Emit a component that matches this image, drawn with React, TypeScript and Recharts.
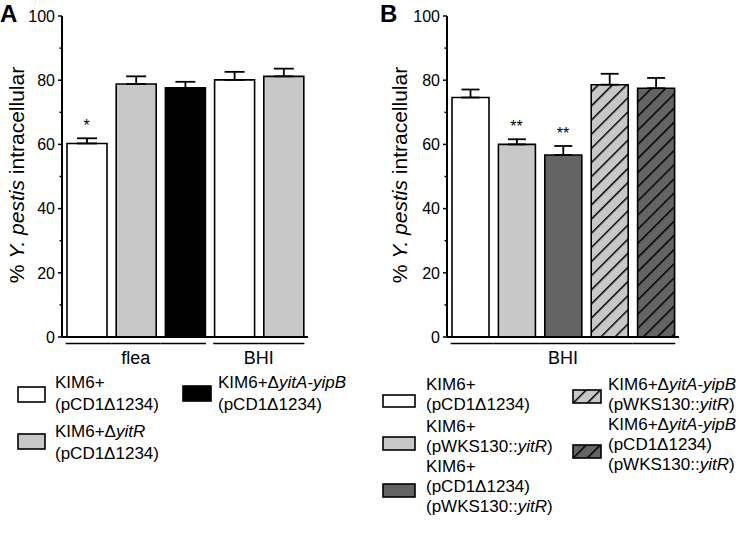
import React from "react";
import { ComposedChart, Bar, Scatter, XAxis, YAxis, ErrorBar, Cell } from "recharts";

const FONT = "'Liberation Sans', Arial, Helvetica, sans-serif";

/* ── panel A: flea vs BHI ── */
const strainsA = ["wt", "dyitR", "dyitAB", "wt", "dyitR"];
const groupsA = ["flea", "flea", "flea", "BHI", "BHI"];
const valuesA = [60.3, 78.8, 77.6, 80.1, 81.2];
const errorsA = [1.6, 2.4, 1.9, 2.5, 2.4];
const sigA = ["*", "", "", "", ""];

/* ── panel B: complementation, BHI ── */
const strainsB = ["wt", "yitR", "pcdYitR", "dyitABYitR", "dyitABPcdYitR"];
const groupsB = ["BHI", "BHI", "BHI", "BHI", "BHI"];
const valuesB = [74.6, 60.0, 56.7, 78.6, 77.5];
const errorsB = [2.5, 1.6, 2.8, 3.4, 3.2];
const sigB = ["", "**", "**", "", ""];

const yTicks = [0, 10, 20, 30, 40, 50, 60, 70, 80, 90, 100];

// legend text, "_x_" = italic
const legendLabels: Record<string, string[]> = {
  wt: ["KIM6+", "(pCD1Δ1234)"],
  dyitR: ["KIM6+Δ_yitR_", "(pCD1Δ1234)"],
  dyitAB: ["KIM6+Δ_yitA-yipB_", "(pCD1Δ1234)"],
  yitR: ["KIM6+", "(pWKS130::_yitR_)"],
  pcdYitR: ["KIM6+", "(pCD1Δ1234)", "(pWKS130::_yitR_)"],
  dyitABYitR: ["KIM6+Δ_yitA-yipB_", "(pWKS130::_yitR_)"],
  dyitABPcdYitR: ["KIM6+Δ_yitA-yipB_", "(pCD1Δ1234)", "(pWKS130::_yitR_)"],
};

const FILL: Record<string, string> = {
  wt: "#ffffff",
  dyitR: "#c8c8c8",
  dyitAB: "#000000",
  yitR: "#c8c8c8",
  pcdYitR: "#646464",
  dyitABYitR: "url(#hatchLight)",
  dyitABPcdYitR: "url(#hatchDark)",
};

const build = (strains: string[], groups: string[], vals: number[], errs: number[], sig: string[]) =>
  strains.map((s, i) => ({
    name: `${groups[i]}-${s}-${i}`,
    strain: s,
    group: groups[i],
    value: vals[i],
    err: [0, errs[i]],
    top: vals[i] + errs[i],
    sig: sig[i],
  }));

const dataA = build(strainsA, groupsA, valuesA, errorsA, sigA);
const dataB = build(strainsB, groupsB, valuesB, errorsB, sigB);

function Rich({ text }: { text: string }) {
  const parts = text.split("_");
  return (
    <>
      {parts.map((p, i) => (i % 2 ? <i key={i}>{p}</i> : <span key={i}>{p}</span>))}
    </>
  );
}

const YTick = (props: any) => {
  const { x, y, payload } = props;
  const major = payload.value % 20 === 0;
  return (
    <g>
      <line x1={x - (major ? 4 : 2.5)} x2={x} y1={y} y2={y} stroke="#000" strokeWidth={1.5} />
      {major && (
        <text x={x - 7} y={y} dy={5.8} textAnchor="end" fontSize={16} fontFamily={FONT} fill="#000">
          {payload.value}
        </text>
      )}
    </g>
  );
};

// group underline + group label, built from the category ticks
const makeXTick = (groups: string[], band: number, barW: number) => (props: any) => {
  const { x, y, payload } = props;
  const i = payload.index;
  const g = groups[i];
  const first = i === 0 || groups[i - 1] !== g;
  const last = i === groups.length - 1 || groups[i + 1] !== g;
  const x1 = first ? x - barW / 2 - 1 : x - band / 2;
  const x2 = last ? x + barW / 2 + 1 : x + band / 2;
  let label = null;
  if (first) {
    let n = 0;
    while (groups[i + n] === g) n++;
    const cx = x + ((n - 1) / 2) * band;
    label = (
      <text x={cx} y={y + 27} textAnchor="middle" fontSize={18} fontFamily={FONT} fill="#000">
        {g}
      </text>
    );
  }
  return (
    <g>
      <line x1={x1} x2={x2} y1={y + 6.5} y2={y + 6.5} stroke="#000" strokeWidth={1.6} />
      {label}
    </g>
  );
};

const YTitle = (props: any) => {
  const { viewBox, dx } = props;
  const cx = viewBox.x + dx;
  const cy = viewBox.y + viewBox.height / 2 - 1.5;
  return (
    <text
      x={cx}
      y={cy}
      transform={`rotate(-90 ${cx} ${cy})`}
      textAnchor="middle"
      dominantBaseline="central"
      fontSize={21}
      fontFamily={FONT}
      fill="#000"
    >
      {"% "}
      <tspan fontStyle="italic">Y. pestis</tspan>
      {" intracellular"}
    </text>
  );
};

function Panel({
  data,
  groups,
  yAxisW,
  barW,
  capW,
  titleDx,
}: {
  data: any[];
  groups: string[];
  yAxisW: number;
  barW: number;
  capW: number;
  titleDx: number;
}) {
  const W = 371;
  const right = 63;
  const band = (W - yAxisW - right) / data.length;
  return (
    <ComposedChart width={W} height={380} data={data} margin={{ top: 16, right, bottom: 0, left: 0 }}>
      <XAxis
        dataKey="name"
        axisLine={{ stroke: "#000", strokeWidth: 2 }}
        tickLine={false}
        tickSize={0}
        tickMargin={0}
        interval={0}
        height={43}
        tick={makeXTick(groups, band, barW)}
      />
      <YAxis
        domain={[0, 100]}
        ticks={yTicks}
        interval={0}
        width={yAxisW}
        axisLine={{ stroke: "#000", strokeWidth: 2 }}
        tickLine={false}
        tickSize={0}
        tickMargin={0}
        tick={<YTick />}
        label={<YTitle dx={titleDx} />}
      />
      <Bar dataKey="value" barSize={barW} stroke="#000" strokeWidth={1.6} isAnimationActive={false}>
        {data.map((d, i) => (
          <Cell key={i} fill={FILL[d.strain]} />
        ))}
        <ErrorBar dataKey="err" width={capW} stroke="#000" strokeWidth={1.8} direction="y" />
      </Bar>
      <Scatter
        dataKey="top"
        isAnimationActive={false}
        shape={(p: any) => (
          <text x={p.cx} y={p.cy - 7} textAnchor="middle" fontSize={16} fontFamily={FONT} fill="#000">
            {p.payload.sig}
          </text>
        )}
      />
    </ComposedChart>
  );
}

function Swatch({ strain, w, h }: { strain: string; w: number; h: number }) {
  return (
    <svg width={w + 2} height={h + 2} style={{ display: "block" }}>
      <rect x={1} y={1} width={w} height={h} fill={FILL[strain]} stroke="#000" strokeWidth={1.6} />
    </svg>
  );
}

function Entry({
  strain,
  sx,
  sy,
  sw,
  sh,
  tx,
  ty,
  lh,
}: {
  strain: string;
  sx: number;
  sy: number;
  sw: number;
  sh: number;
  tx: number;
  ty: number;
  lh: number;
}) {
  return (
    <>
      <div style={{ position: "absolute", left: sx - 1, top: sy - 1 }}>
        <Swatch strain={strain} w={sw} h={sh} />
      </div>
      <div style={{ position: "absolute", left: tx, top: ty, fontSize: 17, lineHeight: `${lh}px`, whiteSpace: "nowrap" }}>
        {legendLabels[strain].map((l, i) => (
          <div key={i}>
            <Rich text={l} />
          </div>
        ))}
      </div>
    </>
  );
}

export default function App() {
  return (
    <div
      style={{
        position: "absolute",
        left: 0,
        top: 0,
        width: 742,
        height: 533,
        background: "#fff",
        fontFamily: FONT,
        color: "#000",
        overflow: "hidden",
      }}
    >
      <svg width={0} height={0} style={{ position: "absolute" }}>
        <defs>
          <pattern id="hatchLight" patternUnits="userSpaceOnUse" width={10} height={10} patternTransform="rotate(45)">
            <rect width={10} height={10} fill="#c8c8c8" />
            <line x1={0} y1={0} x2={0} y2={10} stroke="#000" strokeWidth={3} />
          </pattern>
          <pattern id="hatchDark" patternUnits="userSpaceOnUse" width={10} height={10} patternTransform="rotate(45)">
            <rect width={10} height={10} fill="#646464" />
            <line x1={0} y1={0} x2={0} y2={10} stroke="#000" strokeWidth={3} />
          </pattern>
        </defs>
      </svg>

      <div style={{ position: "absolute", left: 0, top: 1, fontSize: 24, lineHeight: "26px", fontWeight: "bold" }}>A</div>
      <div style={{ position: "absolute", left: 380, top: 1, fontSize: 24, lineHeight: "26px", fontWeight: "bold" }}>B</div>

      <div style={{ position: "absolute", left: 0, top: 0 }}>
        <Panel data={dataA} groups={groupsA} yAxisW={62} barW={40} capW={10} titleDx={16} />
      </div>
      <div style={{ position: "absolute", left: 371, top: 0 }}>
        <Panel data={dataB} groups={groupsB} yAxisW={76} barW={37} capW={9} titleDx={28} />
      </div>

      {/* legend A */}
      <Entry strain="wt" sx={18} sy={387} sw={27} sh={15} tx={55} ty={372} lh={22} />
      <Entry strain="dyitR" sx={18} sy={434} sw={27} sh={15} tx={55} ty={421} lh={22} />
      <Entry strain="dyitAB" sx={183} sy={386} sw={28} sh={15} tx={218} ty={372} lh={22} />

      {/* legend B */}
      <Entry strain="wt" sx={383} sy={395} sw={32} sh={12} tx={426} ty={375} lh={20} />
      <Entry strain="yitR" sx={383} sy={437} sw={32} sh={13} tx={426} ty={417} lh={20} />
      <Entry strain="pcdYitR" sx={383} sy={484} sw={32} sh={13} tx={426} ty={457} lh={20} />
      <Entry strain="dyitABYitR" sx={573} sy={390} sw={28} sh={13} tx={608} ty={375} lh={20} />
      <Entry strain="dyitABPcdYitR" sx={573} sy={445} sw={28} sh={13} tx={608} ty={415} lh={20} />
    </div>
  );
}
